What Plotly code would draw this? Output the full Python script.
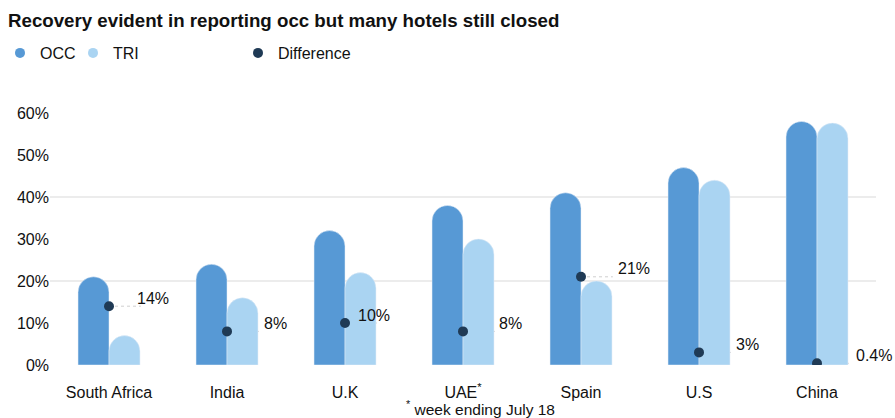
import plotly.graph_objects as go

categories = ["South Africa", "India", "U.K", "UAE", "Spain", "U.S", "China"]
tick_labels = ["South Africa", "India", "U.K", "UAE<sup>*</sup>", "Spain", "U.S", "China"]
occ = [21, 24, 32, 38, 41, 47, 58]
tri = [7, 16, 22, 30, 20, 44, 57.6]
diff = [14, 8, 10, 8, 21, 3, 0.4]
diff_labels = ["14%", "8%", "10%", "8%", "21%", "3%", "0.4%"]
y_ticks = [0, 10, 20, 30, 40, 50, 60]

# style
C_OCC = "#5799d5"
C_TRI = "#aad4f2"
C_DIFF = "#1f3a55"
FONT = "Liberation Sans, Arial, sans-serif"
TXT = "#111111"
label_dx = [26, 35, 11, 34, 35, 35, 37]

W, H = 895, 418
ML, MR, MT, MB = 50, 19, 113, 53
PW, PH = W - ML - MR, H - MT - MB

fig = go.Figure()

fig.add_bar(x=categories, y=occ, name="OCC", marker=dict(color=C_OCC, cornerradius="50%"),
            showlegend=False, hoverinfo="y")
fig.add_bar(x=categories, y=tri, name="TRI", marker=dict(color=C_TRI, cornerradius="50%"),
            showlegend=False, hoverinfo="y")

# dashed connectors from dot to label
for i, d in enumerate(diff):
    fig.add_shape(type="line", xref="x", yref="y", x0=i, x1=i + 0.27, y0=d, y1=d,
                  line=dict(color="#cfcfcf", width=1, dash="dot"), layer="between")

fig.add_scatter(x=categories, y=diff, mode="markers", name="Difference",
                marker=dict(color=C_DIFF, size=10), showlegend=False)

for i, (d, t) in enumerate(zip(diff, diff_labels)):
    fig.add_annotation(x=i, y=d, xref="x", yref="y", text=t, showarrow=False,
                       xanchor="left", yanchor="middle", xshift=label_dx[i], yshift=8,
                       font=dict(family=FONT, size=16, color=TXT))

fig.add_annotation(text="<sup>*</sup> week ending July 18", xref="paper", yref="paper",
                   x=(480 - ML) / PW, y=(H - MB - 408) / PH, xanchor="center",
                   yanchor="middle", showarrow=False,
                   font=dict(family=FONT, size=15.5, color=TXT))

# legend-only entries (circle symbols)
fig.add_scatter(x=[None], y=[None], mode="markers", name="OCC",
                marker=dict(color=C_OCC, size=10), legend="legend")
fig.add_scatter(x=[None], y=[None], mode="markers", name="TRI",
                marker=dict(color=C_TRI, size=10), legend="legend2")
fig.add_scatter(x=[None], y=[None], mode="markers", name="Difference",
                marker=dict(color=C_DIFF, size=10), legend="legend3")

# invisible trace on the grid axis
fig.add_scatter(x=[categories[0]], y=[None], yaxis="y2", showlegend=False, hoverinfo="skip")

leg_common = dict(xref="container", yref="container", yanchor="middle", xanchor="left",
                  y=1 - 53 / H, orientation="h", bgcolor="rgba(0,0,0,0)",
                  font=dict(family=FONT, size=16, color=TXT), itemwidth=30)

fig.update_layout(
    width=W, height=H,
    margin=dict(l=ML, r=MR, t=MT, b=MB, autoexpand=False),
    paper_bgcolor="white", plot_bgcolor="white",
    barmode="group", bargap=0.475, bargroupgap=0,
    font=dict(family=FONT, size=16, color=TXT),
    title=dict(text="<b>Recovery evident in reporting occ but many hotels still closed</b>",
               x=8 / W, xanchor="left", xref="container", y=1 - 20 / H, yanchor="middle",
               yref="container", font=dict(family=FONT, size=18.7, color=TXT)),
    legend=dict(x=-20 / W, **leg_common),
    legend2=dict(x=73 / W, **leg_common),
    legend3=dict(x=238 / W, **leg_common),
    xaxis=dict(tickvals=categories, ticktext=tick_labels, showgrid=False, zeroline=False,
               showline=False, ticks="outside", ticklen=13, tickcolor="rgba(0,0,0,0)",
               range=[-0.5, len(categories) - 0.5], autorange=False,
               tickfont=dict(family=FONT, size=16, color=TXT)),
    yaxis=dict(range=[0, 60], tickvals=y_ticks, ticktext=[f"{v}%" for v in y_ticks],
               showgrid=False, zeroline=False, showline=False,
               tickfont=dict(family=FONT, size=16, color=TXT)),
    yaxis2=dict(range=[0, 60], overlaying="y", side="left", tickvals=[0, 20, 40, 60],
                showticklabels=False, showgrid=True, gridcolor="#ececec", gridwidth=2,
                zeroline=False, showline=False),
)

fig.write_html("out.html")
